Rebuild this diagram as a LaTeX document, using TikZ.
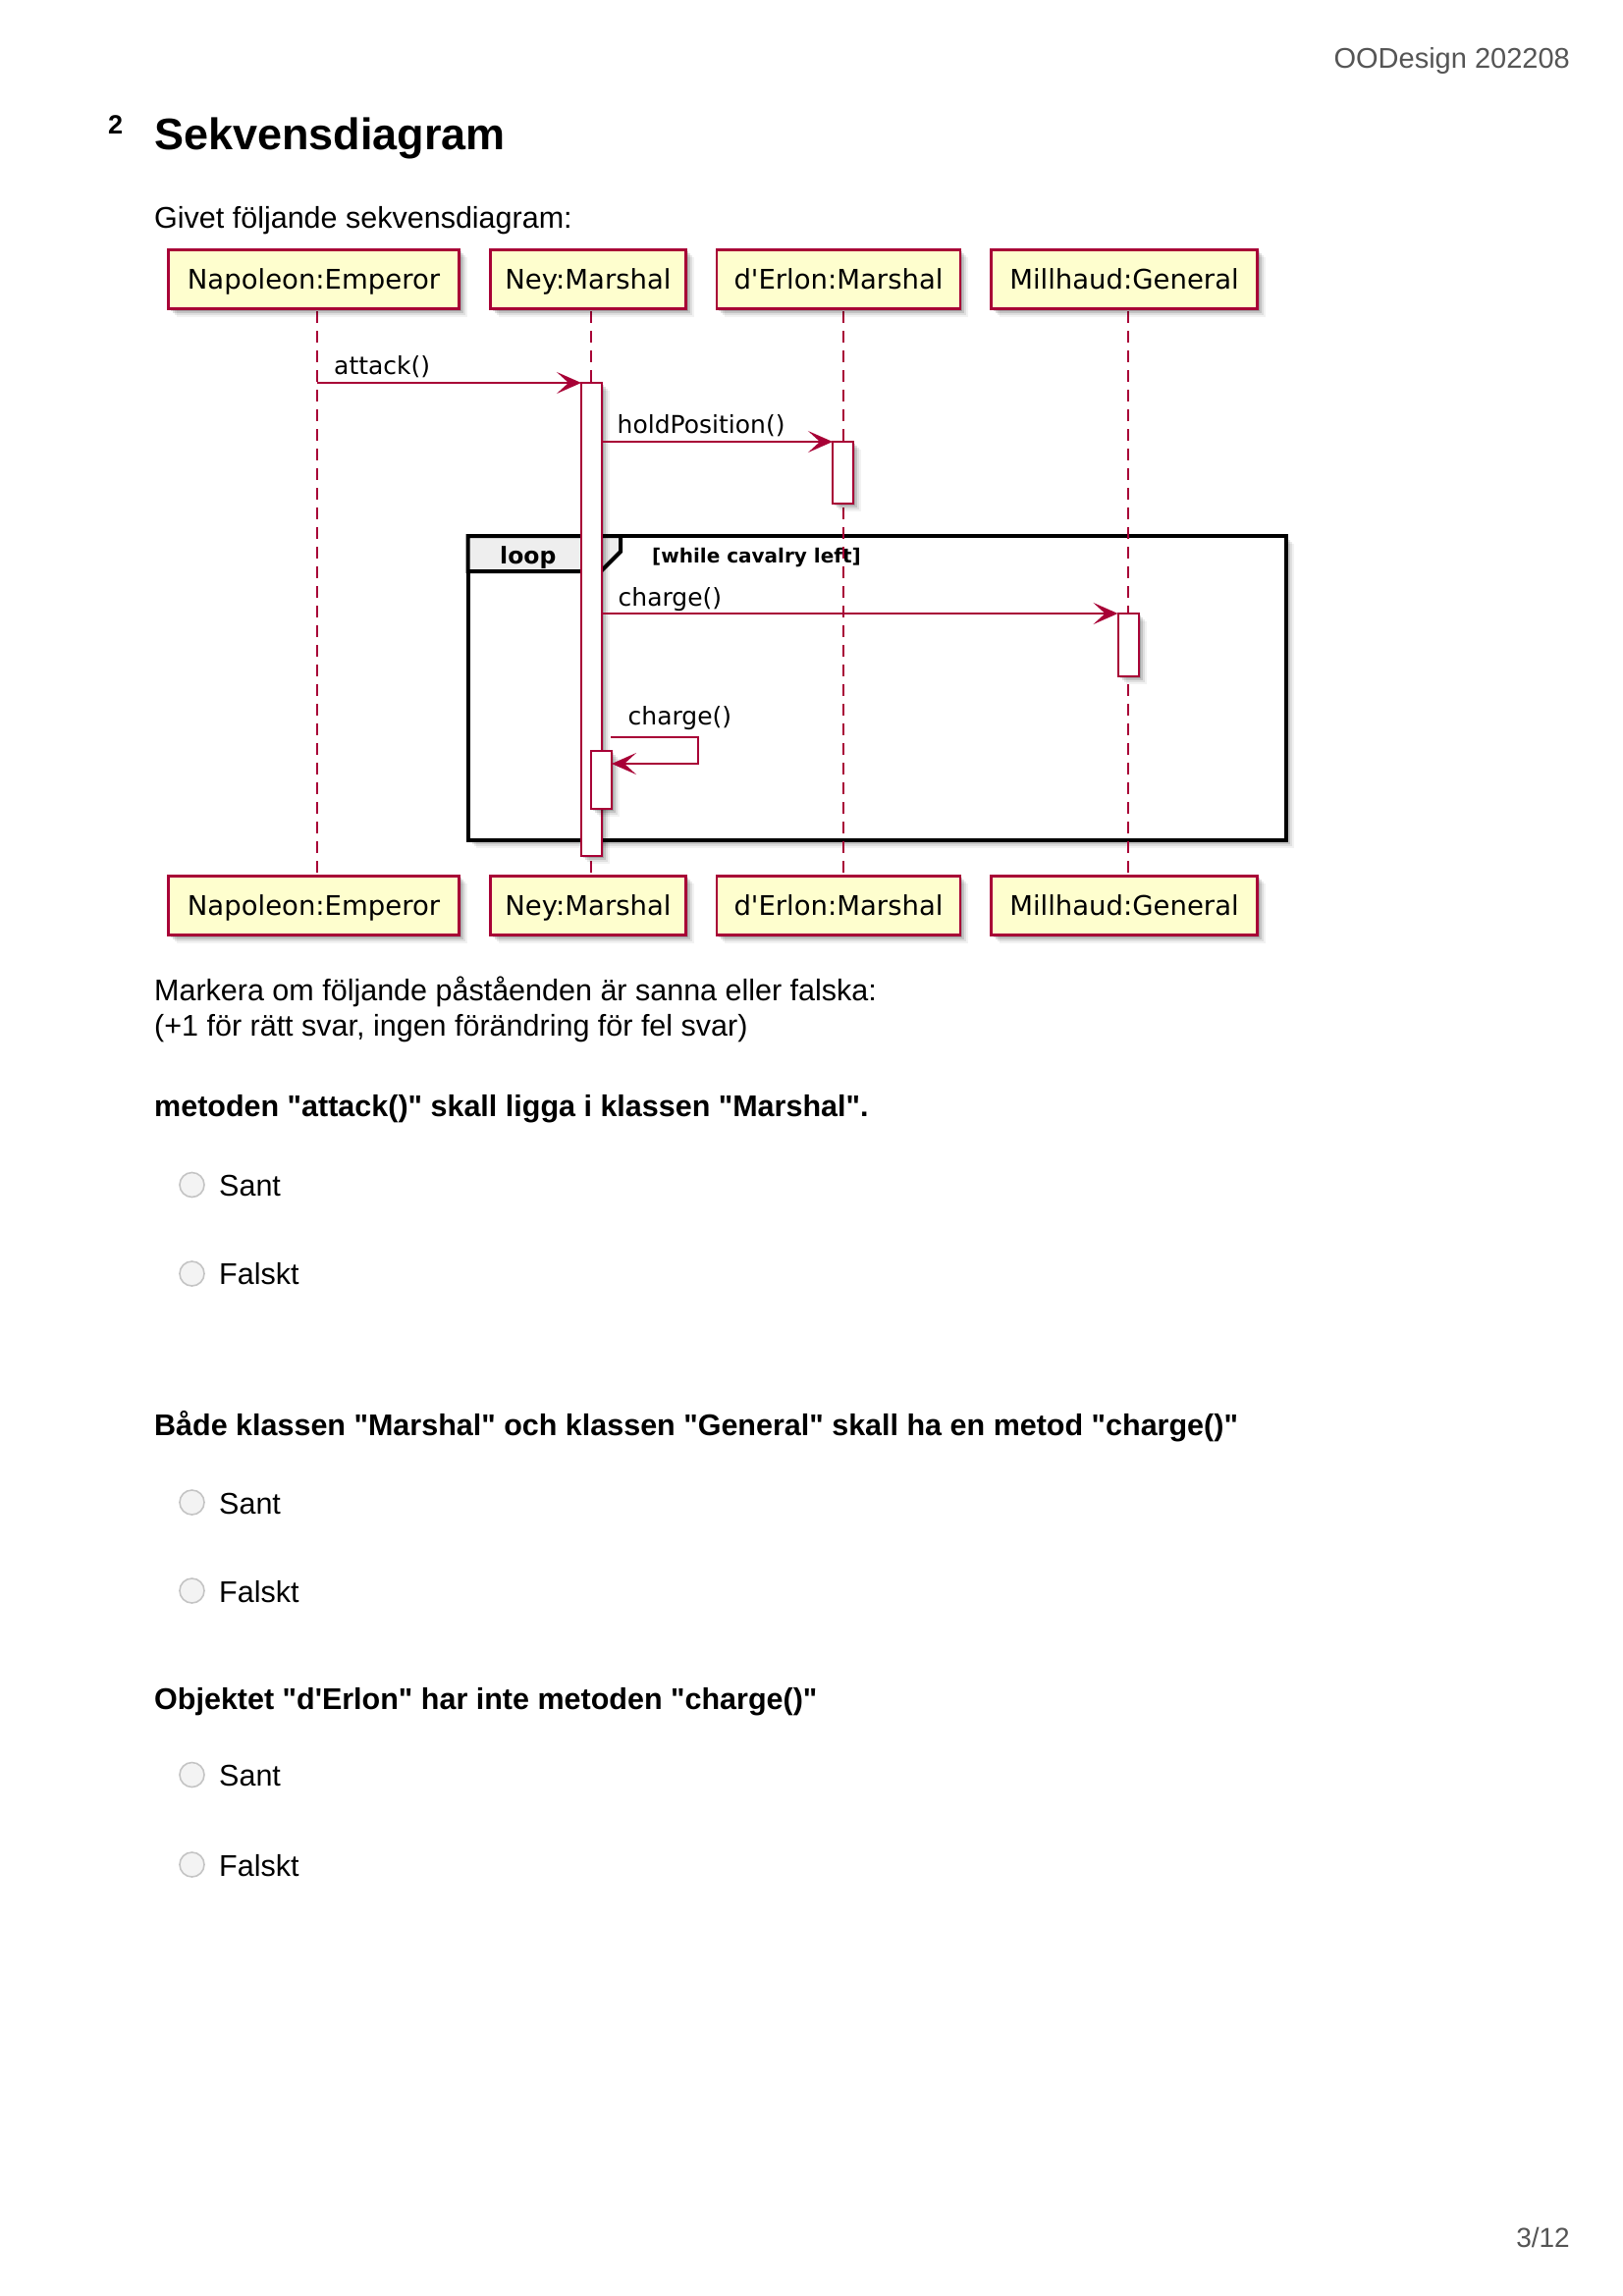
\documentclass[tikz,border=0pt]{standalone}
\usepackage{fontspec}
\setmainfont{Liberation Sans}[Ligatures=TeXOff]
\newfontfamily\dvfont{DejaVu Sans}[Ligatures=TeXOff]
\usetikzlibrary{arrows.meta,shadows}
\definecolor{umlred}{HTML}{A80036}
\definecolor{umlfill}{HTML}{FEFECE}
\definecolor{tabfill}{HTML}{EEEEEE}
\definecolor{pagegray}{HTML}{555555}
\definecolor{radioline}{HTML}{C4C4C4}
\definecolor{radiofill}{HTML}{F3F3F3}
\begin{document}
\begin{tikzpicture}[x=1pt,y=-1pt,
  softshadow/.style={
    drop shadow={shadow xshift=2pt,shadow yshift=-2pt,opacity=.16,fill=black},
    drop shadow={shadow xshift=4pt,shadow yshift=-4pt,opacity=.12,fill=black},
    drop shadow={shadow xshift=6pt,shadow yshift=-6pt,opacity=.08,fill=black},
    drop shadow={shadow xshift=8pt,shadow yshift=-8pt,opacity=.05,fill=black}},
  participant/.style={rectangle, draw=umlred, line width=2.6pt, fill=umlfill,
    minimum height=60.5pt, inner sep=0pt, outer sep=0pt,
    font=\dvfont\fontsize{27.5}{32}\selectfont, text height=23pt, text depth=4pt, softshadow},
  activation/.style={rectangle, draw=umlred, line width=2pt, fill=white,
    inner sep=0pt, outer sep=0pt, minimum width=21pt, softshadow},
  lifeline/.style={draw=umlred, line width=2pt, dash pattern=on 12pt off 8pt},
  msg/.style={draw=umlred, line width=2pt, -{Stealth[length=25pt,width=22pt,inset=12pt]}},
  msglabel/.style={font=\dvfont\fontsize{25}{28}\selectfont, anchor=base west, inner sep=0pt},
  pagetext/.style={font=\fontsize{30.5}{36}\selectfont, anchor=base west, inner sep=0pt},
  qtext/.style={font=\bfseries\fontsize{30.5}{36}\selectfont, anchor=base west, inner sep=0pt},
  radio/.style={circle, draw=radioline, fill=radiofill, line width=1.6pt, minimum size=25pt, inner sep=0pt},
  graytext/.style={font=\fontsize{29}{34}\selectfont, text=pagegray, anchor=base east, inner sep=0pt}
]
\useasboundingbox (0,0) rectangle (1653,2339);
\fill[white] (0,0) rectangle (1653,2339);

% page header
\node[graytext] (header) at (1599,70) {OODesign 202208};
\node[font=\bfseries\fontsize{27}{30}\selectfont, anchor=base west, inner sep=0pt] (qnum) at (110,137) {2};
\node[font=\bfseries\fontsize{45}{52}\selectfont, anchor=base west, inner sep=0pt] (title) at (157,153) {Sekvensdiagram};
\node[pagetext] (intro) at (157,232) {Givet följande sekvensdiagram:};

% loop frame
\node[rectangle, draw=black, line width=4pt, fill=white, minimum width=833.5pt, minimum height=310pt,
      inner sep=0pt, outer sep=0pt, softshadow] (loopframe) at (893.25,701) {};
\draw[fill=tabfill, draw=black, line width=4pt, line join=miter]
  (loopframe.north west) -- (632,546) -- (632,562) -- (612,582) -- (loopframe.west |- 0,582) -- cycle;
\node[font=\dvfont\bfseries\fontsize{23.5}{26}\selectfont, anchor=base west, inner sep=0pt] (looplbl) at (509,574) {loop};
\node[font=\dvfont\bfseries\fontsize{20}{24}\selectfont, anchor=base west, inner sep=0pt] (loopcond) at (664,573) {[while cavalry left]};

% lifelines
\coordinate (napTop) at (323,317); \coordinate (napBot) at (323,891);
\coordinate (neyTop) at (602,317); \coordinate (neyBot) at (602,891);
\coordinate (derTop) at (858.5,317); \coordinate (derBot) at (858.5,891);
\coordinate (milTop) at (1149,317); \coordinate (milBot) at (1149,891);
\draw[lifeline] (napTop) -- (napBot);
\draw[lifeline] (neyTop) -- (neyBot);
\draw[lifeline] (derTop) -- (derBot);
\draw[lifeline] (milTop) -- (milBot);

% participants
\node[participant, minimum width=296pt] (napT) at (319.5,284.5) {Napoleon:Emperor};
\node[participant, minimum width=199pt] (neyT) at (599,284.5) {Ney:Marshal};
\node[participant, minimum width=248pt] (derT) at (854,284.5) {d'Erlon:Marshal};
\node[participant, minimum width=271pt] (milT) at (1145,284.5) {Millhaud:General};
\node[participant, minimum width=296pt] (napB) at (319.5,922.5) {Napoleon:Emperor};
\node[participant, minimum width=199pt] (neyB) at (599,922.5) {Ney:Marshal};
\node[participant, minimum width=248pt] (derB) at (854,922.5) {d'Erlon:Marshal};
\node[participant, minimum width=271pt] (milB) at (1145,922.5) {Millhaud:General};

% activations
\node[activation, minimum height=482pt] (neyAct) at (602.5,631) {};
\node[activation, minimum height=63pt] (derAct) at (858.5,481.5) {};
\node[activation, minimum height=64pt] (milAct) at (1149,657) {};
\node[activation, minimum height=59pt] (neyAct2) at (612.5,794.5) {};

% messages
\coordinate (attackStart) at (323,390);
\draw[msg] (attackStart) -- (neyAct.north west);
\node[msglabel] (attackLbl) at (340,381) {attack()};
\draw[msg] (neyAct.east |- derAct.north) -- (derAct.north west);
\node[msglabel] (holdLbl) at (628.5,441) {holdPosition()};
\draw[msg] (neyAct.east |- milAct.north) -- (milAct.north west);
\node[msglabel] (chargeLbl) at (629.5,617) {charge()};
\coordinate (selfStart) at (622,751);
\coordinate (selfEnd) at (neyAct2.east |- 0,778);
\draw[msg] (selfStart) -- (711,751) -- (711,778) -- (selfEnd);
\node[msglabel] (selfLbl) at (639.5,738) {charge()};

% text below
\node[pagetext] (mark1) at (157,1019) {Markera om följande påståenden är sanna eller falska:};
\node[pagetext] (mark2) at (157,1055) {(+1 för rätt svar, ingen förändring för fel svar)};

\node[qtext] (q1) at (157,1137) {metoden "attack()" skall ligga i klassen "Marshal".};
\node[radio] (q1a) at (195.5,1207) {};
\node[pagetext] (q1at) at (223,1218) {Sant};
\node[radio] (q1b) at (195.5,1297.5) {};
\node[pagetext] (q1bt) at (223,1308) {Falskt};

\node[qtext] (q2) at (157,1462) {Både klassen "Marshal" och klassen "General" skall ha en metod "charge()"};
\node[radio] (q2a) at (195.5,1530.5) {};
\node[pagetext] (q2at) at (223,1542) {Sant};
\node[radio] (q2b) at (195.5,1620.5) {};
\node[pagetext] (q2bt) at (223,1632) {Falskt};

\node[qtext] (q3) at (157,1741) {Objektet "d'Erlon" har inte metoden "charge()"};
\node[radio] (q3a) at (195.5,1808) {};
\node[pagetext] (q3at) at (223,1819) {Sant};
\node[radio] (q3b) at (195.5,1899.5) {};
\node[pagetext] (q3bt) at (223,1911) {Falskt};

\node[graytext, font=\fontsize{28}{32}\selectfont] (pageno) at (1599,2289) {3/12};
\end{tikzpicture}
\end{document}
